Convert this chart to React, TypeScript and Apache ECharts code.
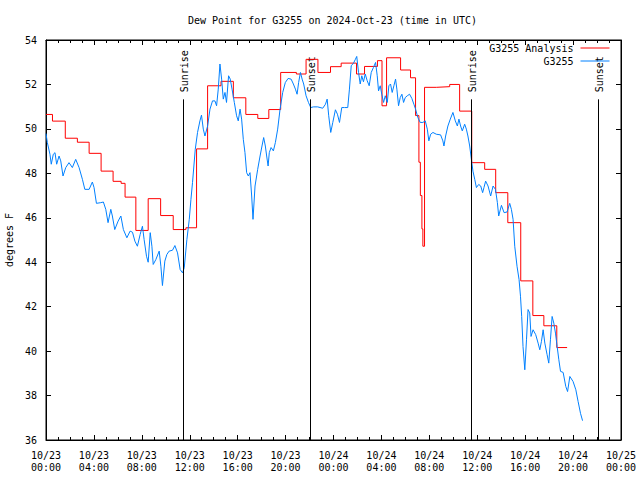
import React, { useEffect, useRef } from "react";
import * as echarts from "echarts";

// hours since 2024-10-23 00:00 UTC
const analysisHours = [0, 0.54, 1.61, 2.62, 3.6, 4.6, 5.6, 6.27, 6.6, 7.5, 8.53, 9.57, 10.62, 11.68, 12.57, 13.49, 14.61, 15.64, 16.68, 17.68, 18.6, 19.59, 20.9, 21.71, 22.7, 23.75, 24.64, 25.92, 26.59, 27.67, 28.05, 28.43, 29.6, 30.43, 30.85, 31.13, 31.25, 31.38, 31.46, 31.6, 32.58, 33.7, 34.53, 35.54, 36.62, 37.54, 38.55, 39.63, 40.64, 41.56, 42.64, 43.5];
const analysisValues = [50.65, 50.35, 49.58, 49.4, 48.9, 48.1, 47.64, 47.55, 46.93, 45.43, 46.86, 46.1, 45.47, 45.55, 49.1, 51.94, 52.14, 51.4, 50.65, 50.47, 50.87, 52.54, 52.47, 53.13, 52.54, 52.8, 52.96, 52.47, 52.81, 53.07, 51.04, 53.2, 52.65, 52.3, 50.6, 48.5, 47.0, 45.5, 44.72, 51.87, 51.9, 52.0, 50.8, 48.48, 48.18, 47.13, 45.78, 43.16, 41.6, 41.14, 40.16, 40.16];

const obsHours = [0, 0.11, 0.33, 0.44, 0.61, 0.75, 0.89, 1.09, 1.23, 1.42, 1.65, 1.92, 2.2, 2.48, 2.76, 3.04, 3.24, 3.6, 3.87, 4.01, 4.21, 4.57, 4.79, 4.99, 5.18, 5.41, 5.54, 5.74, 6.02, 6.25, 6.46, 6.75, 7.02, 7.22, 7.42, 7.63, 7.86, 8.05, 8.19, 8.39, 8.53, 8.7, 8.84, 8.95, 9.17, 9.45, 9.59, 9.72, 9.92, 10.09, 10.28, 10.56, 10.76, 10.98, 11.2, 11.4, 11.54, 11.76, 11.96, 12.1, 12.23, 12.46, 12.65, 12.85, 12.98, 13.13, 13.27, 13.49, 13.69, 13.9, 14.1, 14.24, 14.38, 14.52, 14.66, 14.8, 14.94, 15.07, 15.24, 15.38, 15.53, 15.72, 15.91, 16.05, 16.2, 16.33, 16.47, 16.61, 16.75, 16.89, 17.03, 17.17, 17.28, 17.45, 17.67, 17.87, 18.03, 18.17, 18.31, 18.42, 18.54, 18.64, 18.79, 18.98, 19.15, 19.34, 19.54, 19.76, 19.98, 20.21, 20.46, 20.65, 20.82, 20.96, 21.09, 21.24, 21.38, 21.51, 21.71, 21.91, 22.1, 22.32, 22.68, 23.1, 23.33, 23.47, 23.6, 23.77, 23.94, 24.16, 24.33, 24.5, 24.69, 24.92, 25.19, 25.33, 25.48, 25.67, 25.81, 25.94, 26.09, 26.23, 26.36, 26.5, 26.65, 26.81, 26.98, 27.15, 27.34, 27.51, 27.65, 27.76, 27.9, 28.03, 28.18, 28.32, 28.49, 28.62, 28.76, 28.9, 29.04, 29.18, 29.29, 29.43, 29.57, 29.71, 29.85, 29.99, 30.16, 30.35, 30.54, 30.71, 30.85, 31.04, 31.24, 31.46, 31.66, 31.83, 31.96, 32.11, 32.3, 32.58, 32.94, 33.13, 33.22, 33.36, 33.55, 33.75, 33.97, 34.17, 34.34, 34.47, 34.61, 34.75, 34.95, 35.09, 35.22, 35.37, 35.51, 35.64, 35.79, 35.93, 36.12, 36.29, 36.45, 36.56, 36.7, 36.9, 37.12, 37.32, 37.52, 37.68, 37.79, 38.02, 38.24, 38.49, 38.71, 38.85, 38.99, 39.13, 39.32, 39.49, 39.61, 39.71, 39.82, 39.97, 40.11, 40.24, 40.38, 40.49, 40.66, 40.88, 41.08, 41.22, 41.36, 41.5, 41.64, 41.83, 41.97, 42.11, 42.25, 42.39, 42.53, 42.67, 42.81, 42.95, 43.17, 43.39, 43.54, 43.73, 44.0, 44.23, 44.42, 44.62, 44.79];
const obsValues = [49.79, 49.39, 48.86, 48.41, 48.86, 48.93, 48.41, 48.78, 48.56, 47.88, 48.26, 48.48, 48.26, 48.63, 48.26, 47.73, 47.28, 47.28, 47.61, 47.36, 46.65, 46.68, 46.71, 46.38, 45.78, 46.38, 46.08, 45.47, 45.85, 46.08, 45.47, 45.1, 45.4, 45.35, 44.95, 44.72, 45.25, 45.62, 45.02, 44.27, 44.0, 45.33, 44.72, 43.9, 44.12, 44.5, 43.82, 42.95, 44.05, 44.35, 44.5, 44.54, 44.75, 44.42, 43.67, 43.52, 43.75, 45.02, 45.93, 46.83, 47.58, 49.08, 49.84, 50.36, 50.62, 49.99, 49.68, 50.13, 50.89, 51.26, 51.26, 51.04, 51.79, 52.92, 52.24, 51.34, 51.64, 51.19, 52.39, 52.24, 51.79, 51.19, 50.59, 50.36, 50.89, 50.44, 49.53, 48.93, 48.03, 47.88, 48.03, 46.98, 45.93, 47.43, 48.18, 48.78, 49.23, 49.61, 49.23, 48.78, 48.33, 48.93, 49.16, 49.01, 49.39, 49.99, 50.89, 51.64, 52.09, 52.27, 52.24, 52.02, 51.79, 51.56, 52.09, 52.54, 52.24, 52.02, 51.49, 51.19, 50.96, 50.99, 50.99, 50.93, 51.11, 51.34, 50.59, 49.84, 50.29, 50.86, 50.66, 50.29, 50.96, 50.96, 50.96, 51.79, 52.84, 52.96, 53.11, 53.26, 52.54, 52.02, 52.39, 52.12, 52.47, 52.17, 51.94, 52.54, 52.77, 52.99, 52.39, 51.71, 51.94, 51.56, 51.19, 51.49, 51.19, 51.94, 52.02, 51.64, 51.94, 52.24, 51.79, 51.04, 51.41, 51.56, 51.19, 51.41, 51.49, 51.56, 51.37, 51.11, 50.89, 50.51, 50.29, 50.29, 50.36, 49.99, 49.46, 49.76, 49.84, 49.76, 49.73, 49.46, 49.23, 49.68, 50.13, 50.44, 50.74, 50.36, 50.13, 50.44, 50.13, 49.91, 50.21, 49.99, 49.68, 49.23, 48.63, 48.1, 47.73, 47.36, 47.5, 47.43, 47.13, 47.36, 47.65, 47.43, 46.98, 47.43, 47.28, 46.68, 46.08, 46.56, 46.23, 46.26, 46.65, 46.38, 45.93, 44.72, 43.82, 43.22, 42.47, 41.56, 40.21, 39.16, 40.51, 41.87, 41.72, 40.66, 40.96, 40.74, 40.36, 40.06, 40.44, 40.96, 40.36, 39.84, 39.46, 40.51, 41.56, 41.26, 40.81, 40.21, 39.61, 39.09, 39.04, 38.41, 38.18, 38.86, 38.63, 38.26, 37.73, 37.2, 36.87];

const sunHours = [11.48, 22.1, 35.48, 46.12];
const sunNames = ["Sunrise", "Sunset", "Sunrise", "Sunset"];
const sunLineTop = 51.33;

const yMin = 36;
const yMax = 54;
const yStep = 2;
const xMin = 0;
const xMax = 48;
const xStep = 4;

const FONT = '"DejaVu Sans Mono", "Liberation Mono", monospace';

function fmtHour(v: number): string {
  const day = 23 + Math.floor(v / 24);
  const hh = Math.round(v % 24);
  return `10/${day}\n${String(hh).padStart(2, "0")}:00`;
}

export default function App() {
  const ref = useRef<HTMLDivElement>(null);
  useEffect(() => {
    if (!ref.current) return;
    const chart = echarts.init(ref.current, null, { renderer: "svg" });
    const analysisData = analysisHours.map((h, i) => [h, analysisValues[i]]);
    const obsData = obsHours.map((h, i) => [h, obsValues[i]]);
    const textStyle = { fontFamily: FONT, fontSize: 10, color: "#000" };
    const xCommon = {
      type: "value" as const,
      min: xMin,
      max: xMax,
      interval: xStep,
      splitLine: { show: false },
      axisLine: { onZero: false, lineStyle: { color: "#000", width: 1 } },
      axisTick: { inside: true, length: 5, lineStyle: { color: "#000" } },
      minorTick: { show: true, splitNumber: 4, length: 3, lineStyle: { color: "#000" } },
    };
    const yCommon = {
      type: "value" as const,
      min: yMin,
      max: yMax,
      interval: yStep,
      splitLine: { show: false },
      axisLine: { onZero: false, lineStyle: { color: "#000", width: 1 } },
      axisTick: { inside: true, length: 5, lineStyle: { color: "#000" } },
    };
    const legendCommon = {
      right: 30,
      align: "right",
      itemWidth: 29,
      itemHeight: 12,
      padding: 0,
      selectedMode: false,
      itemStyle: { opacity: 0 },
      lineStyle: { width: 1 },
      textStyle: { ...textStyle, padding: [0, 2, 0, 0] },
    };
    const option: any = {
      animation: false,
      backgroundColor: "#fff",
      title: {
        text: "Dew Point for G3255 on 2024-Oct-23 (time in UTC)",
        left: 188,
        top: 15,
        padding: 0,
        textStyle: { ...textStyle, fontWeight: "normal" },
      },
      legend: [
        { ...legendCommon, data: ["G3255 Analysis"], top: 43 },
        { ...legendCommon, data: ["G3255"], top: 56 },
      ],
      grid: {
        left: 46,
        right: 19,
        top: 40,
        bottom: 40,
        containLabel: false,
        outerBoundsMode: "none",
        show: true,
        borderColor: "#000",
        borderWidth: 1,
        backgroundColor: "transparent",
      },
      xAxis: [
        {
          ...xCommon,
          position: "bottom",
          axisLabel: {
            ...textStyle,
            margin: 9,
            lineHeight: 12,
            formatter: (v: number) => fmtHour(v),
          },
        },
        {
          ...xCommon,
          position: "top",
          axisLabel: { show: false },
        },
      ],
      yAxis: [
        {
          ...yCommon,
          position: "left",
          name: "degrees F",
          nameLocation: "middle",
          nameGap: 30,
          nameTextStyle: textStyle,
          axisLabel: { ...textStyle, margin: 9 },
        },
        {
          ...yCommon,
          position: "right",
          axisLabel: { show: false },
        },
      ],
      series: [
        {
          name: "G3255 Analysis",
          type: "line",
          step: "end",
          data: analysisData,
          symbol: "none",
          showSymbol: false,
          color: "#ff0000",
          lineStyle: { color: "#ff0000", width: 1 },
          markLine: {
            silent: true,
            symbol: ["none", "none"],
            label: { show: false },
            lineStyle: { color: "#000", width: 1, type: "solid" },
            data: sunHours.map((h) => [
              { coord: [h, yMin] },
              { coord: [h, sunLineTop] },
            ]),
          },
        },
        {
          name: "G3255",
          type: "line",
          data: obsData,
          symbol: "none",
          showSymbol: false,
          color: "#0080ff",
          lineStyle: { color: "#0080ff", width: 1 },
        },
      ],
    };
    chart.setOption(option);
    const graphics = sunHours.map((h, i) => {
      const p = chart.convertToPixel({ xAxisIndex: 0, yAxisIndex: 0 }, [h, sunLineTop]) as number[];
      return {
        type: "text",
        x: p[0] + 1,
        y: p[1] - 7,
        rotation: Math.PI / 2,
        silent: true,
        style: {
          text: sunNames[i],
          textAlign: "left",
          textVerticalAlign: "middle",
          font: `10px ${FONT}`,
          fill: "#000",
        },
      };
    });
    chart.setOption({ graphic: graphics });
    return () => chart.dispose();
  }, []);
  return <div ref={ref} style={{ width: 640, height: 480, position: "absolute", left: 0, top: 0 }} />;
}
